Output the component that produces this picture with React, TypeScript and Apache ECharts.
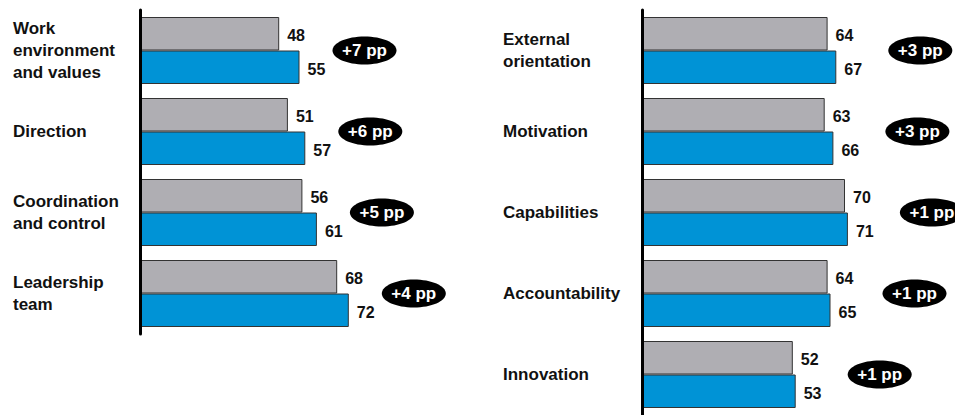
import React, { useEffect, useRef } from "react";
import * as echarts from "echarts";

const leftCategories = ["Work\nenvironment\nand values", "Direction", "Coordination\nand control", "Leadership\nteam"];
const leftPrevious = [48, 51, 56, 68];
const leftCurrent = [55, 57, 61, 72];
const leftChange = ["+7 pp", "+6 pp", "+5 pp", "+4 pp"];

const rightCategories = ["External\norientation", "Motivation", "Capabilities", "Accountability", "Innovation"];
const rightPrevious = [64, 63, 70, 64, 52];
const rightCurrent = [67, 66, 71, 65, 53];
const rightChange = ["+3 pp", "+3 pp", "+1 pp", "+1 pp", "+1 pp"];

const FONT = '"Liberation Sans", Arial, Helvetica, sans-serif';
const GRAY = "#afaeb3";
const BLUE = "#0093d6";

function barSeries(name: string, values: number[], color: string, idx: number) {
  return {
    name,
    type: "bar",
    xAxisIndex: idx,
    yAxisIndex: idx,
    data: values,
    barWidth: 33.5,
    barGap: "0%",
    itemStyle: { color, borderColor: "#333", borderWidth: 1 },
    label: {
      show: true,
      position: "right",
      distance: 8,
      offset: [0, 2],
      color: "#111",
      fontWeight: "bold",
      fontSize: 16,
      fontFamily: FONT,
    },
    z: 2,
  };
}

function pillSeries(current: number[], change: string[], idx: number, offset: number) {
  return {
    type: "custom",
    xAxisIndex: idx,
    yAxisIndex: idx,
    data: current.map((v, i) => [v, i]),
    encode: { x: 0, y: 1 },
    clip: false,
    z: 5,
    renderItem: (params: any, api: any) => {
      const p = api.coord([api.value(0), api.value(1)]);
      const cx = p[0] + offset;
      const cy = p[1];
      return {
        type: "group",
        children: [
          { type: "ellipse", shape: { cx, cy, rx: 32, ry: 14 }, style: { fill: "#000" } },
          {
            type: "text",
            style: {
              text: change[params.dataIndex],
              x: cx,
              y: cy,
              align: "center",
              verticalAlign: "middle",
              textAlign: "center",
              textVerticalAlign: "middle",
              fill: "#fff",
              font: `bold 17px ${FONT}`,
            },
          },
        ],
      };
    },
  };
}

function yAxisFor(cats: string[], idx: number, margin: number) {
  return {
    type: "category",
    gridIndex: idx,
    data: cats,
    inverse: true,
    z: 10,
    axisLine: { show: true, lineStyle: { color: "#000", width: 3 } },
    axisTick: { show: false },
    splitLine: { show: false },
    axisLabel: {
      align: "left",
      margin,
      color: "#111",
      fontWeight: "bold",
      fontSize: 17,
      lineHeight: 22,
      fontFamily: FONT,
    },
  };
}

export default function App() {
  const ref = useRef<HTMLDivElement>(null);
  useEffect(() => {
    if (!ref.current) return;
    const chart = echarts.init(ref.current, undefined, { renderer: "svg" });
    chart.setOption({
      animation: false,
      backgroundColor: "#fff",
      grid: [
        { left: 140, top: 10, width: 290, height: 324 },
        { left: 642, top: 10, width: 290, height: 405 },
      ],
      xAxis: [
        { type: "value", gridIndex: 0, min: 0, max: 100, show: false },
        { type: "value", gridIndex: 1, min: 0, max: 100, show: false },
      ],
      yAxis: [yAxisFor(leftCategories, 0, 127), yAxisFor(rightCategories, 1, 139)],
      series: [
        barSeries("Previous", leftPrevious, GRAY, 0),
        barSeries("Current", leftCurrent, BLUE, 0),
        pillSeries(leftCurrent, leftChange, 0, 65),
        barSeries("Previous", rightPrevious, GRAY, 1),
        barSeries("Current", rightCurrent, BLUE, 1),
        pillSeries(rightCurrent, rightChange, 1, 84),
      ],
    });
    return () => chart.dispose();
  }, []);
  return (
    <div
      ref={ref}
      style={{ position: "absolute", left: 0, top: 0, width: 955, height: 415 }}
    />
  );
}
